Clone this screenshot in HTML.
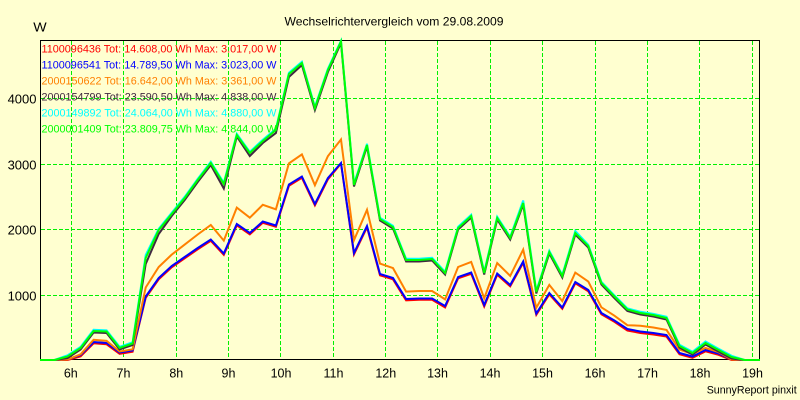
<!DOCTYPE html>
<html>
<head>
<meta charset="utf-8">
<style>
html,body{margin:0;padding:0;background:#ffffd0;}
svg{display:block;}
text{font-family:"Liberation Sans",Arial,sans-serif;}
</style>
</head>
<body>
<svg width="800" height="400" viewBox="0 0 800 400" xmlns="http://www.w3.org/2000/svg">
<rect x="0" y="0" width="800" height="400" fill="#ffffd0"/>

<!-- grid -->
<g stroke="#00f000" stroke-width="1" stroke-dasharray="4,2" shape-rendering="crispEdges" fill="none">
<line x1="41" y1="98.5" x2="759" y2="98.5"/>
<line x1="41" y1="164.5" x2="759" y2="164.5"/>
<line x1="41" y1="229.5" x2="759" y2="229.5"/>
<line x1="41" y1="295.5" x2="759" y2="295.5"/>
<line x1="71.5" y1="41" x2="71.5" y2="359"/>
<line x1="123.5" y1="41" x2="123.5" y2="359"/>
<line x1="176.5" y1="41" x2="176.5" y2="359"/>
<line x1="228.5" y1="41" x2="228.5" y2="359"/>
<line x1="280.5" y1="41" x2="280.5" y2="359"/>
<line x1="333.5" y1="41" x2="333.5" y2="359"/>
<line x1="385.5" y1="41" x2="385.5" y2="359"/>
<line x1="437.5" y1="41" x2="437.5" y2="359"/>
<line x1="490.5" y1="41" x2="490.5" y2="359"/>
<line x1="542.5" y1="41" x2="542.5" y2="359"/>
<line x1="595.5" y1="41" x2="595.5" y2="359"/>
<line x1="647.5" y1="41" x2="647.5" y2="359"/>
<line x1="699.5" y1="41" x2="699.5" y2="359"/>
<line x1="752.5" y1="41" x2="752.5" y2="359"/>
</g>

<!-- frame -->
<rect x="40.5" y="40.5" width="719" height="319" fill="none" stroke="#000" stroke-width="1" shape-rendering="crispEdges"/>

<!-- series -->
<g fill="none" stroke-width="2" stroke-linejoin="miter">
<polyline stroke="#ff0000" points="40,360 54.5,360 67.5,360 80.6,356.3 93.6,343.3 106.6,344.3 119.6,353.8 132.6,351.8 145.7,297.8 158.7,279.3 171.7,267.3 184.7,258.3 197.7,249.3 210.8,240.8 223.8,254.8 236.8,225.3 249.8,234.3 262.8,222.8 275.9,226.8 288.9,185.8 301.9,177.8 314.9,205.3 327.9,179.3 341,163.5 354,254.3 367,227.3 380,275.3 393,279.3 406.1,300.3 419.1,299.8 432.1,299.8 445.1,307.5 458.1,278.3 471.2,273.8 484.2,306.5 497.2,274.8 510.2,286.3 523.2,262.8 536.3,314.8 549.3,294.3 562.3,308.8 575.3,283.3 588.3,291.3 601.4,314.3 614.4,321.8 627.4,330.5 640.4,333 653.4,334.5 666.5,336.5 679.5,354.3 692.5,357.8 705.5,351.3 718.5,354.8 731.6,360 760,360"/>
<polyline stroke="#0000ff" points="40,360 54.5,360 67.5,359.5 80.6,355 93.6,342 106.6,343 119.6,352.5 132.6,350.5 145.7,296.5 158.7,278 171.7,266 184.7,257 197.7,248 210.8,239.5 223.8,253.5 236.8,224 249.8,233 262.8,221.5 275.9,225.5 288.9,184.5 301.9,176.5 314.9,204 327.9,178 341,163 354,253 367,226 380,274 393,278 406.1,299 419.1,298.5 432.1,298.5 445.1,306 458.1,277 471.2,272.5 484.2,305 497.2,273.5 510.2,285 523.2,261.5 536.3,313.5 549.3,293 562.3,307.5 575.3,282 588.3,290 601.4,313 614.4,320.5 627.4,329 640.4,331.5 653.4,333 666.5,335 679.5,353 692.5,356.5 705.5,350 718.5,353.5 731.6,359.5 744.6,360 760,360"/>
<polyline stroke="#ff8000" points="40,360 54.5,360 67.5,359.5 80.6,354.3 93.6,339.8 106.6,340.9 119.6,351.5 132.6,349.3 145.7,287.5 158.7,267 171.7,254.6 184.7,244.6 197.7,234.5 210.8,225 223.8,240.6 236.8,207.6 249.8,217.7 262.8,204.8 275.9,209.3 288.9,163.4 301.9,154.4 314.9,185.2 327.9,156.1 341,139.5 354,240.1 367,209.8 380,263.6 393,268.1 406.1,291.6 419.1,291 432.1,291 445.1,299.4 458.1,267 471.2,261.9 484.2,298.3 497.2,263 510.2,275.9 523.2,249.6 536.3,307.8 549.3,284.9 562.3,301.1 575.3,272.6 588.3,281.5 601.4,307.3 614.4,315.7 627.4,325.2 640.4,325.7 653.4,327.5 666.5,329.9 679.5,349.5 692.5,354 705.5,347.9 718.5,352.1 731.6,359.5 744.6,360 760,360"/>
<polyline stroke="#402a40" points="40,360 54.5,360 67.5,358 80.6,349.5 93.6,332.5 106.6,333 119.6,349.5 132.6,345 145.7,264 158.7,234 171.7,216 184.7,200 197.7,182 210.8,165 223.8,188.5 236.8,136.5 249.8,156 262.8,143 275.9,133 288.9,77 301.9,65 314.9,110 327.9,72 341,43 354,186.5 367,146.5 380,220.5 393,228.5 406.1,261.5 419.1,261.5 432.1,260.5 445.1,274.5 458.1,229.5 471.2,217.5 484.2,274.5 497.2,219.5 510.2,239.5 523.2,204.5 536.3,293.5 549.3,253.5 562.3,277.5 575.3,234.5 588.3,247.5 601.4,284.5 614.4,298 627.4,311 640.4,314.5 653.4,316.5 666.5,319.5 679.5,347.5 692.5,354.5 705.5,344.5 718.5,351.5 731.6,358.5 744.6,360 760,360"/>
<polyline stroke="#00ffff" points="40,360 54.5,360 67.5,355.3 80.6,346.8 93.6,329.8 106.6,330.3 119.6,346.8 132.6,342.3 145.7,255 158.7,228.8 171.7,212.8 184.7,196.8 197.7,178.8 210.8,161.8 223.8,182.8 236.8,133.8 249.8,151.8 262.8,139.8 275.9,128.8 288.9,72.8 301.9,61.8 314.9,106.8 327.9,68.8 341,40.8 354,183.8 367,143.8 380,217.8 393,225.8 406.1,258.8 419.1,258.8 432.1,257.8 445.1,271.8 458.1,226.8 471.2,214.8 484.2,271.8 497.2,216.8 510.2,236.8 523.2,200.5 536.3,290.8 549.3,250.8 562.3,274.8 575.3,231 588.3,244.8 601.4,281.8 614.4,295.3 627.4,308.3 640.4,311.8 653.4,313.8 666.5,316.8 679.5,344.8 692.5,351.8 705.5,341.5 718.5,348.8 731.6,355.8 744.6,360 760,360"/>
<polyline stroke="#00ff00" points="40,360 54.5,360 67.5,356.5 80.6,348 93.6,331 106.6,331.5 119.6,348 132.6,343.5 145.7,258 158.7,230 171.7,214 184.7,198 197.7,180 210.8,163 223.8,184 236.8,135 249.8,153 262.8,141 275.9,130 288.9,74 301.9,63 314.9,108 327.9,70 341,41.5 354,185 367,145 380,219 393,227 406.1,260 419.1,260 432.1,259 445.1,273 458.1,228 471.2,216 484.2,273 497.2,218 510.2,238 523.2,203 536.3,292 549.3,252 562.3,276 575.3,233 588.3,246 601.4,283 614.4,296.5 627.4,309.5 640.4,313 653.4,315 666.5,318 679.5,346 692.5,353 705.5,343 718.5,350 731.6,357 744.6,360 760,360"/>
</g>

<!-- title & unit -->
<text x="284.5" y="25.3" font-size="12" fill="#000" textLength="219" lengthAdjust="spacingAndGlyphs">Wechselrichtervergleich vom 29.08.2009</text>
<text x="33.3" y="31.7" font-size="13" fill="#000" textLength="13.4" lengthAdjust="spacingAndGlyphs">W</text>

<!-- legend -->
<g font-size="11">
<text x="41.5" y="52.5" fill="#ff0000" textLength="235" lengthAdjust="spacingAndGlyphs">1100096436 Tot: 14.608,00 Wh Max: 3.017,00 W</text>
<text x="41.5" y="68.5" fill="#0000ff" textLength="235" lengthAdjust="spacingAndGlyphs">1100096541 Tot: 14.789,50 Wh Max: 3.023,00 W</text>
<text x="41.5" y="84.5" fill="#ff8000" textLength="235" lengthAdjust="spacingAndGlyphs">2000150622 Tot: 16.642,00 Wh Max: 3.361,00 W</text>
<text x="41.5" y="100.5" fill="#402a40" textLength="235" lengthAdjust="spacingAndGlyphs">2000154799 Tot: 23.590,50 Wh Max: 4.838,00 W</text>
<text x="41.5" y="116.5" fill="#00ffff" textLength="235" lengthAdjust="spacingAndGlyphs">2000149892 Tot: 24.064,00 Wh Max: 4.880,00 W</text>
<text x="41.5" y="132.5" fill="#00ff00" textLength="235" lengthAdjust="spacingAndGlyphs">2000001409 Tot: 23.809,75 Wh Max: 4.844,00 W</text>
</g>

<!-- y labels -->
<g font-size="13" fill="#000" text-anchor="end">
<text x="36.5" y="103.3">4000</text>
<text x="36.5" y="169.3">3000</text>
<text x="36.5" y="234.3">2000</text>
<text x="36.5" y="300.3">1000</text>
</g>

<!-- x labels -->
<g font-size="12.5" fill="#000" text-anchor="middle">
<text x="70.8" y="377.5">6h</text>
<text x="123.5" y="377.5">7h</text>
<text x="176.3" y="377.5">8h</text>
<text x="228.5" y="377.5">9h</text>
<text x="281" y="377.5">10h</text>
<text x="333.5" y="377.5">11h</text>
<text x="385.8" y="377.5">12h</text>
<text x="437.5" y="377.5">13h</text>
<text x="490" y="377.5">14h</text>
<text x="542.5" y="377.5">15h</text>
<text x="595" y="377.5">16h</text>
<text x="647.5" y="377.5">17h</text>
<text x="700" y="377.5">18h</text>
<text x="752.5" y="377.5">19h</text>
</g>

<text x="706.7" y="393.6" font-size="10.7" fill="#000" textLength="90" lengthAdjust="spacingAndGlyphs">SunnyReport pinxit</text>
</svg>
</body>
</html>
